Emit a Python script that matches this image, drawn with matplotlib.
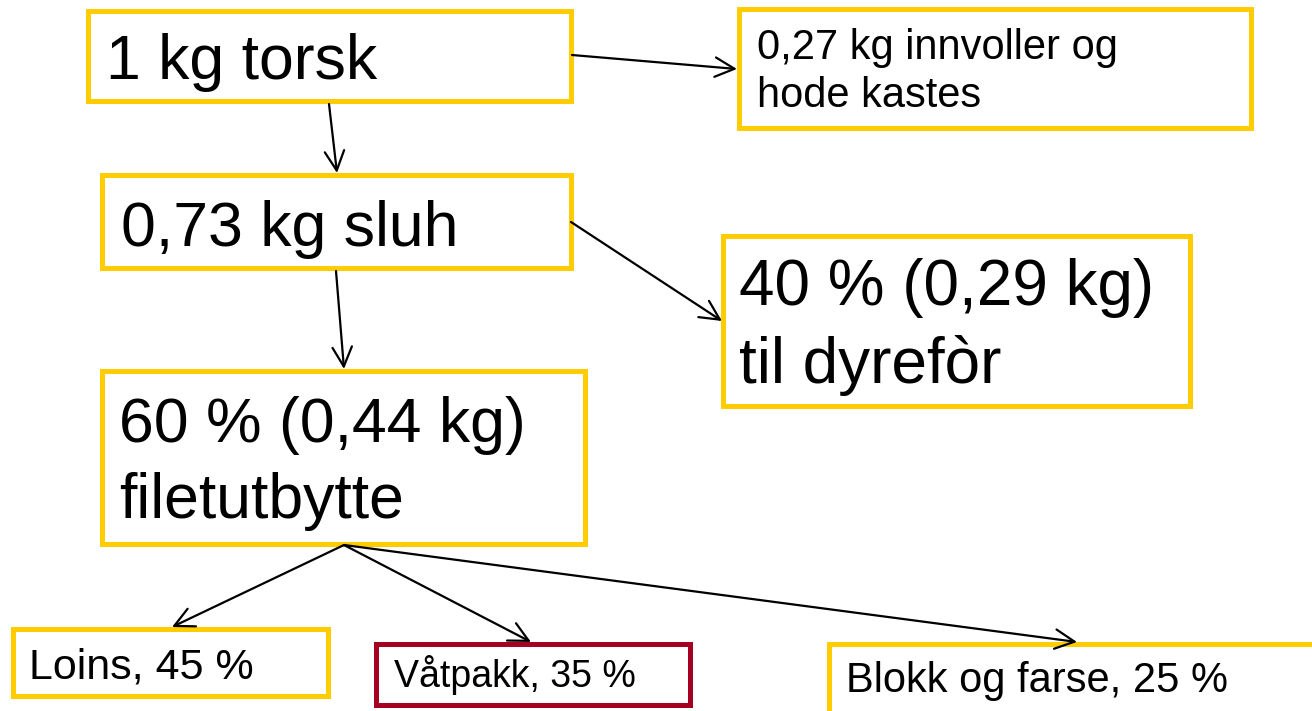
import matplotlib.pyplot as plt
from matplotlib.patches import Rectangle

plt.rcParams['font.family'] = ['Liberation Sans', 'DejaVu Sans']

# box texts, one list of lines per box
labels = [
  ["1 kg torsk"],
  ["0,27 kg innvoller og", "hode kastes"],
  ["0,73 kg sluh"],
  ["40 % (0,29 kg)", "til dyrefòr"],
  ["60 % (0,44 kg)", "filetutbytte"],
  ["Loins, 45 %"],
  ["Våtpakk, 35 %"],
  ["Blokk og farse, 25 %"],
]

# box frames (x0, y0, x1, y1) in pixel space, y going down
boxes = [
  (88, 11, 571, 101),
  (739, 9, 1251, 128),
  (102, 175, 571, 268),
  (723, 236, 1190, 406),
  (102, 371, 585, 544),
  (13, 629, 328, 696),
  (376, 644, 690, 705),
  (829, 644, 1330, 730),
]
edge_colors = ["#FFCC00"] * 6 + ["#A50021", "#FFCC00"]

# text anchor (x, first baseline), line gap, font size
text_pos = [
  (106, 79), (757, 59), (121, 246), (739, 305),
  (119, 442), (29, 678), (394, 687), (846, 692),
]
line_gap = [0, 48, 0, 78, 76, 0, 0, 0]
font_sizes = [45, 30, 45, 46, 45, 31, 27, 30]

# arrows: start point, end point
arrows = [
  ((572, 55), (737, 69)),
  ((329, 104), (337, 173)),
  ((571, 222), (722, 321)),
  ((336, 271), (344, 369)),
  ((344, 545), (172, 627)),
  ((344, 545), (531, 642)),
  ((344, 545), (1077, 642)),
]

fig = plt.figure(figsize=(13.12, 7.11), dpi=100)
ax = fig.add_axes([0, 0, 1, 1])
ax.set_xlim(0, 1312)
ax.set_ylim(711, 0)
ax.axis("off")

for (x0, y0, x1, y1), col in zip(boxes, edge_colors):
  ax.add_patch(Rectangle((x0, y0), x1 - x0, y1 - y0, facecolor="white",
                         edgecolor=col, linewidth=3.6, joinstyle="miter"))

for lines, (tx, ty), gap, fs in zip(labels, text_pos, line_gap, font_sizes):
  for i, line in enumerate(lines):
    ax.text(tx, ty + i * gap, line, fontsize=fs, color="black",
            ha="left", va="baseline")

for start, end in arrows:
  ax.annotate("", xy=end, xytext=start,
              arrowprops=dict(arrowstyle="->,head_length=0.7,head_width=0.35",
                              color="black", linewidth=1.6, mutation_scale=20,
                              shrinkA=0, shrinkB=0))

fig.savefig("out.png", dpi=100, facecolor="white")
